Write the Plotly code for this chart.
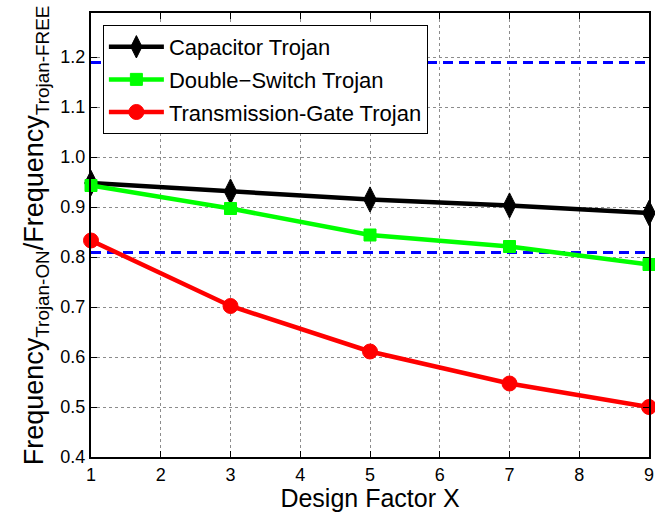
import plotly.graph_objects as go

x_vals = [1, 3, 5, 7, 9]
capacitor = [0.948, 0.931, 0.915, 0.903, 0.888]
double_switch = [0.943, 0.897, 0.844, 0.821, 0.785]
transmission_gate = [0.833, 0.702, 0.611, 0.547, 0.500]
threshold_high = 1.189
threshold_low = 0.809
x_range = [1, 9]
y_range = [0.4, 1.288]
y_ticks = [0.4, 0.5, 0.6, 0.7, 0.8, 0.9, 1.0, 1.1, 1.2]
x_ticks = [1, 2, 3, 4, 5, 6, 7, 8, 9]

FONT = "Liberation Sans, Arial, sans-serif"

fig = go.Figure()

for yv in [threshold_high, threshold_low]:
    fig.add_trace(go.Scatter(
        x=x_range, y=[yv, yv], mode="lines",
        line=dict(color="rgb(0,0,255)", width=3, dash="10px,6px"),
        showlegend=False, hoverinfo="skip"))

series = [
    ("Capacitor Trojan", capacitor, "black", "diamond-tall", 18),
    ("Double\u2212Switch Trojan", double_switch, "rgb(0,255,0)", "square", 12),
    ("Transmission-Gate Trojan", transmission_gate, "rgb(255,0,0)", "circle", 15),
]
for i, (name, ys, col, sym, sz) in enumerate(series):
    fig.add_trace(go.Scatter(
        x=x_vals, y=ys, name=name, mode="lines+markers",
        line=dict(color=col, width=4.5),
        marker=dict(symbol=sym, size=sz, color=col, line=dict(color=col, width=1)),
        cliponaxis=False, legendgroup=f"g{i}"))

axis_common = dict(
    showline=True, linecolor="black", linewidth=2, mirror="ticks",
    ticks="inside", ticklen=6, tickwidth=1, tickcolor="black",
    showgrid=True, gridcolor="rgb(140,140,140)", griddash="dot", gridwidth=1,
    zeroline=False, tickfont=dict(family=FONT, size=18, color="black"),
    ticklabeloverflow="allow",
)

fig.update_xaxes(range=x_range, tickvals=x_ticks,
                 title=dict(text="Design Factor X", font=dict(family=FONT, size=25, color="black"), standoff=3),
                 **axis_common)
fig.update_yaxes(range=y_range, tickvals=y_ticks, tickformat=".1f", **axis_common)

fig.add_annotation(
    text="Frequency<sub>Trojan-ON</sub>/Frequency<sub>Trojan-FREE</sub>",
    textangle=-90, xref="paper", yref="paper", x=-0.098, y=0.5,
    xanchor="center", yanchor="middle", showarrow=False,
    font=dict(family=FONT, size=27, color="black"))

fig.update_layout(
    width=655, height=512,
    margin=dict(l=91, r=1, t=13, b=55),
    paper_bgcolor="white", plot_bgcolor="white",
    font=dict(family=FONT, color="black"),
    legend=dict(x=0.0213, y=0.973, xanchor="left", yanchor="top",
                bgcolor="white", bordercolor="black", borderwidth=1,
                font=dict(family=FONT, size=22, color="black"),
                itemwidth=55, tracegroupgap=1, traceorder="grouped"),
)

fig.write_html("out.html")
